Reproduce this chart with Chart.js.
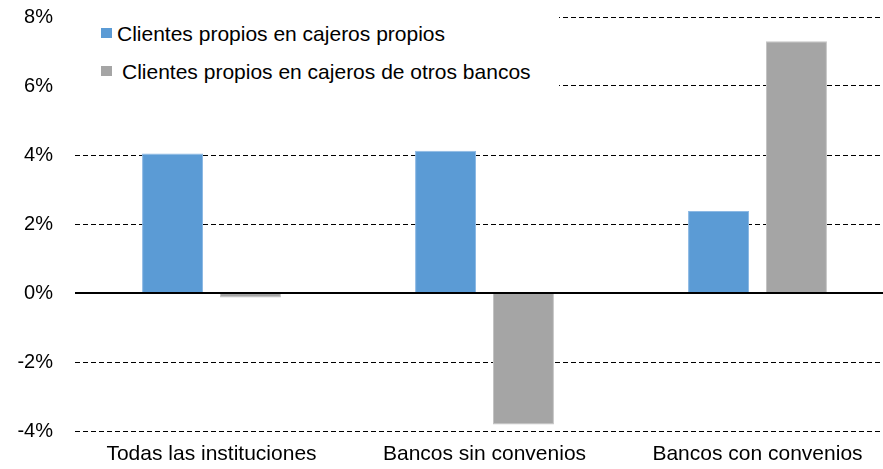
<!DOCTYPE html>
<html>
<head>
<meta charset="utf-8">
<script src="https://cdn.jsdelivr.net/npm/chart.js@4/dist/chart.umd.min.js"></script>
<style>
  body { margin: 0; overflow: hidden; background: #fff; }
  #marco { position: relative; width: 894px; height: 469px; }
  #leyenda { position: absolute; left: 73px; top: 0; width: 486px; height: 100px; background: #fff;
    font-family: "Liberation Sans", Arial, sans-serif; font-size: 21px; color: #000; }
  .item { position: absolute; white-space: nowrap; line-height: 21px; }
  .cuadro { position: absolute; width: 11px; height: 10px; }
</style>
</head>
<body>
<div id="marco">
  <canvas id="graficoBarras"></canvas>
  <div id="leyenda"></div>
</div>
<script>
// datos del gráfico
var categorias = ['Todas las instituciones', 'Bancos sin convenios', 'Bancos con convenios'];
var nombresSeries = ['Clientes propios en cajeros propios', 'Clientes propios en cajeros de otros bancos'];
var cajerosPropios = [4.04, 4.12, 2.38];
var cajerosOtros = [-0.13, -3.81, 7.30];
var ticksY = [-4, -2, 0, 2, 4, 6, 8];
var colores = ['#5B9BD5', '#A5A5A5'];

// leyenda manual (sobre el gráfico, con fondo blanco)
var leyenda = document.getElementById('leyenda');
var posLeyenda = [{ cy: 33, tx: 44 }, { cy: 71, tx: 49 }];
nombresSeries.forEach(function (nombre, i) {
  var cuadro = document.createElement('div');
  cuadro.className = 'cuadro';
  cuadro.style.background = colores[i];
  cuadro.style.left = '28px';
  cuadro.style.top = (posLeyenda[i].cy - 5) + 'px';
  leyenda.appendChild(cuadro);
  var texto = document.createElement('div');
  texto.className = 'item';
  texto.textContent = nombre;
  texto.style.left = posLeyenda[i].tx + 'px';
  texto.style.top = (posLeyenda[i].cy - 10) + 'px';
  leyenda.appendChild(texto);
});

var ctx = document.getElementById('graficoBarras').getContext('2d');
var graficoBarras = new Chart(ctx, {
  type: 'bar',
  data: {
    labels: categorias,
    datasets: [
      {
        label: nombresSeries[0],
        data: cajerosPropios,
        backgroundColor: colores[0],
        borderColor: '#8DB9E4',
        borderWidth: 1,
      },
      {
        label: nombresSeries[1],
        data: cajerosOtros,
        backgroundColor: colores[1],
        borderColor: '#C4C4C4',
        borderWidth: 1,
      },
    ],
  },
  options: {
    responsive: true,
    maintainAspectRatio: false,
    animation: false,
    layout: { padding: { top: 17, right: 0, bottom: 0, left: 0 } },
    datasets: {
      bar: { categoryPercentage: 0.571, barPercentage: 0.782 },
    },
    scales: {
      x: {
        grid: { display: false, drawTicks: false },
        border: { display: false },
        ticks: {
          padding: 11,
          color: '#000',
          maxRotation: 0,
          font: { family: '"Liberation Sans", Arial, sans-serif', size: 21 },
        },
        afterFit: function (scale) {
          scale.height = 38;
          scale.paddingLeft = 0;
          scale.paddingRight = 0;
        },
      },
      y: {
        min: -4,
        max: 8,
        afterBuildTicks: function (scale) {
          scale.ticks = ticksY.map(function (v) { return { value: v }; });
        },
        grid: {
          drawTicks: false,
          color: '#000',
          lineWidth: function (c) { return c.tick && c.tick.value === 0 ? 2 : 1; },
        },
        border: {
          display: false,
          dash: function (c) { return c.tick && c.tick.value === 0 ? [] : [5, 3]; },
        },
        ticks: {
          padding: 22,
          color: '#000',
          font: { family: '"Liberation Sans", Arial, sans-serif', size: 20 },
          callback: function (v) { return v + '%'; },
        },
        afterFit: function (scale) {
          scale.width = 75;
          scale.paddingTop = 0;
          scale.paddingBottom = 0;
        },
      },
    },
    plugins: {
      legend: { display: false },
      tooltip: { enabled: false },
    },
  },
});
</script>
</body>
</html>
